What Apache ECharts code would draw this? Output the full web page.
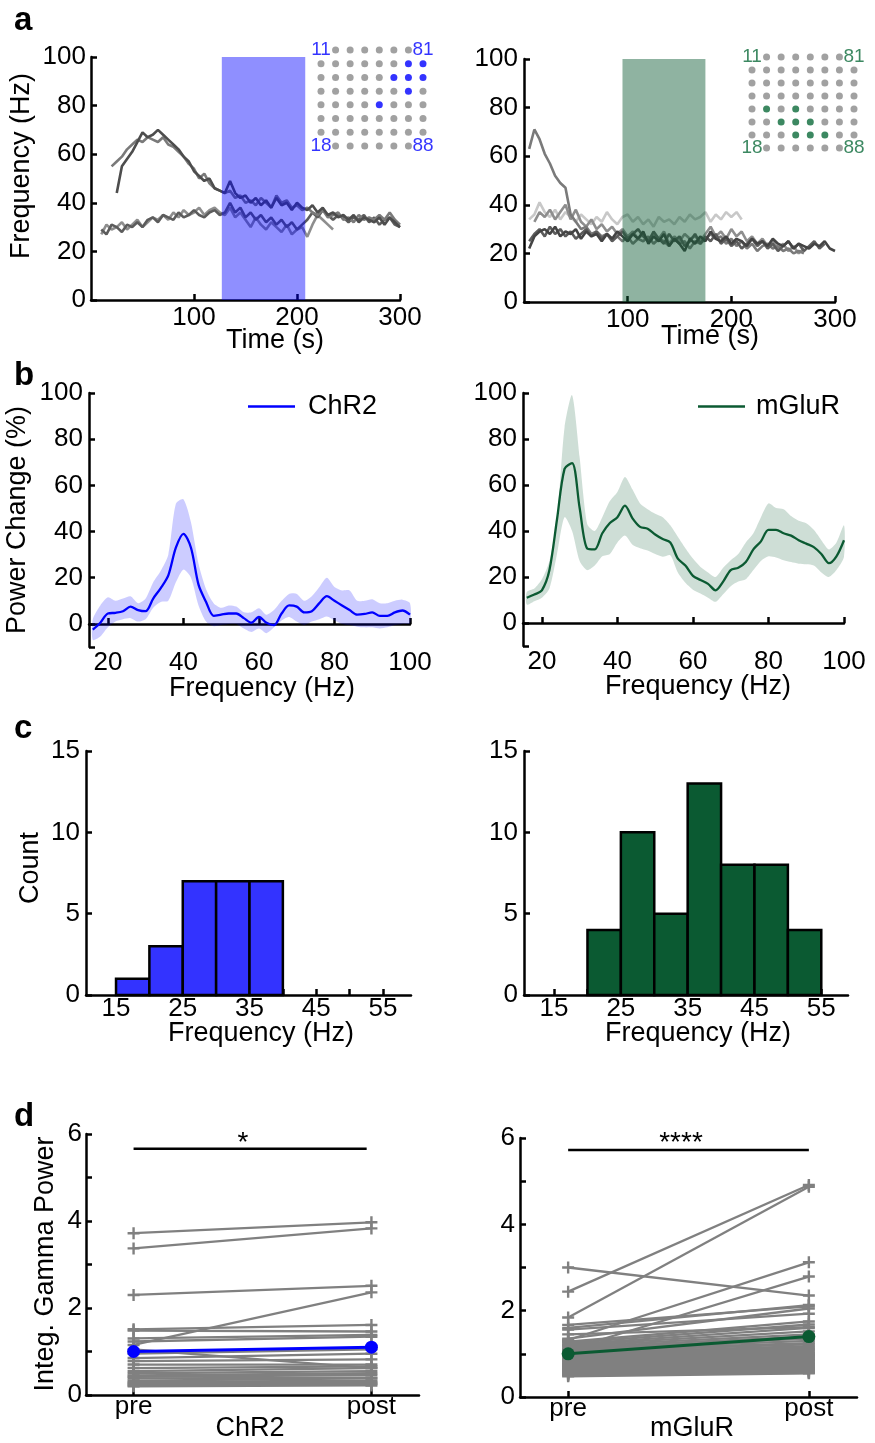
<!DOCTYPE html>
<html>
<head>
<meta charset="utf-8">
<script src="https://cdn.jsdelivr.net/npm/echarts@6.0.0/dist/echarts.min.js"></script>
<style>
  html, body { margin: 0; padding: 0; background: #fff; }
  #main { width: 875px; height: 1443px; }
</style>
</head>
<body>
<div id="main"></div>
<script>
var FONT = "'Liberation Sans', Arial, Helvetica, sans-serif";
var BLUE = '#0000ff';
var GREEN = '#0b5a32';
var TICK_SIZE = 26;
var TITLE_SIZE = 27;
var n = null;

// ---- a: peak frequency over time ----
var timeS = [5,10,15,20,25,30,35,40,45,50,55,60,65,70,75,80,85,90,95,100,105,110,115,120,125,130,135,140,145,150,155,160,165,170,175,180,185,190,195,200,205,210,215,220,225,230,235,240,245,250,255,260,265,270,275,280,285,290,295,300];
var chr2Trace1 = [n,n,n,n,44,55,58,61,65,69,67,68,70,68,66,64,62,59,57,53,
  51,49,50,46,45,44,49,44,42,43,40,42,39,41,38,42,39,40,37,40,
  38,37,39,36,38,35,36,34,35,33,35,32,34,33,32,34,31,34,32,30];
var chr2Trace2 = [n,n,n,55,57,59,62,64,66,65,67,66,65,67,64,63,61,59,56,54,
  50,52,48,46,45,44,45,42,43,40,41,39,42,40,38,43,40,41,38,39,
  37,38,36,35,37,34,35,36,33,34,32,35,33,34,33,35,33,36,33,31];
var chr2Trace3 = [n,27,31,29,30,32,29,31,33,30,32,34,33,35,33,36,34,37,35,36,
  38,35,37,38,36,35,38,34,36,33,30,34,31,29,32,30,28,31,27,29,
  30,26,31,35,33,31,29,n,n,n,n,n,n,n,n,n,n,n,n,n];
var chr2Trace4 = [n,29,27,31,30,28,31,30,32,30,33,34,32,35,34,33,36,34,35,37,
  35,34,36,37,35,36,40,36,38,34,36,33,35,32,34,31,33,30,32,29,
  31,33,36,34,37,35,33,35,34,32,34,33,35,32,34,31,33,34,31,30];
var mglurTrace1 = [63,71,67,61,57,52,49,47,36,33,30,31,28,29,27,28,26,27,25,27,
  24,26,25,27,24,26,25,23,26,24,25,22,25,24,26,28,26,27,24,26,
  23,25,22,24,21,23,24,22,23,21,22,20,21,20,n,n,n,n,n,n];
var mglurTrace2 = [34,36,41,37,35,38,34,37,35,33,36,34,32,35,33,37,34,32,35,36,
  33,35,32,34,31,35,33,34,32,35,33,36,34,35,37,33,36,34,37,35,
  37,34,n,n,n,n,n,n,n,n,n,n,n,n,n,n,n,n,n,n];
var mglurTrace3 = [n,33,37,35,38,34,37,40,34,38,33,31,34,30,32,29,31,28,30,27,
  29,26,28,25,28,26,29,24,27,25,28,26,27,25,28,31,27,29,26,30,
  27,29,25,27,24,26,23,25,22,24,21,23,20,22,n,n,n,n,n,n];
var mglurTrace4 = [22,27,29,30,28,31,27,29,28,30,26,29,27,28,25,28,26,29,27,25,
  28,26,29,24,27,25,28,23,26,24,21,26,24,27,25,29,26,25,27,24,
  26,25,23,26,24,25,23,26,24,23,25,22,24,23,22,24,23,25,22,21];
var mglurTrace5 = [25,28,30,27,31,28,30,27,29,26,28,30,27,29,26,28,25,27,29,26,
  28,30,27,25,29,26,24,28,25,27,23,25,28,24,27,25,28,24,26,23,
  25,22,24,26,23,25,22,24,21,23,25,22,24,21,23,25,22,24,n,n];
var chr2Stim = [127, 208];
var mglurStim = [95, 175];
var timeTicks = [100, 200, 300];
var freqTicksA = [0, 20, 40, 60, 80, 100];

// electrode map insets (col, row)
var siteCols = [0,1,2,3,4,5,6,7];
var siteRows = [0,1,2,3,4,5,6,7];
var cornerSites = [[0,0,'11'],[7,0,'81'],[0,7,'18'],[7,7,'88']];
var chr2Sites = [[6,1],[7,1],[5,2],[6,2],[7,2],[6,3],[4,4]];
var mglurSites = [[1,4],[3,4],[2,5],[3,5],[4,5],[3,6],[4,6],[5,6]];

// ---- b: power change spectra ----
var freqHz = [16,18,20,22,24,26,28,30,32,34,36,38,40,42,44,46,48,50,52,54,56,58,60,62,64,66,68,70,72,74,76,78,80,82,84,86,88,90,92,94,96,98,100];
var chr2Mean = [-2.5,0.5,4.5,4.8,5.5,7.5,6,5.5,11,15.5,21,33,39,33,17,9.5,3.5,4,4.5,4.5,2.5,0.5,3,0.5,-0.5,4.5,8,7.5,5,5.5,9,12,10,8,6,4,4.3,5,3.5,3.5,5,5.8,4];
var chr2Upper = [2,8,11.5,10,11,12,9,11,18,23,30,52,54,44,26,15,9,7,8,7.5,5,5,6.8,4,6,10,13,13,10,12,16,20,16,14.5,14.5,10,10,10.7,9,9,10,10.5,9];
var chr2Lower = [-7,-5.5,-1.5,1,2,2.5,1,2,7,9.5,10,18,23.5,20,8,1,-1,-0.5,0,0,-2,-3.5,-2,-4,-1.5,1.5,3,1,-0.5,1,2,3.2,1.5,0,-0.5,-1.2,-1.5,-1.5,-2,-1.5,-0.5,0,0.3];
var mglurMean = [11,12.4,14.2,23,45,67,69.5,50,32.4,32,39,43.5,46,51,45.5,41.8,41,38.5,36.5,35,28,25,20.5,18.7,17,14.2,18,23,24,26.5,32,35.5,40.5,40.5,39,38,36,34.5,33,30,26,29,36];
var mglurUpper = [13.5,15,19,27,45,85,99,72,43,40,46,53,57,63.5,58,52,49.5,47.5,46,42.5,37.5,32.5,28,24.4,22,20,24,27.3,30,35,39,46,52,50,49.5,46.5,44.5,43.4,40.5,36,32,35,42.5];
var mglurLower = [8,9.5,11,15,30,46,40,27,23,25,29,30,35,38,34,32.5,31.5,30,28.8,29.5,22,17.5,14.5,12.8,11,9.2,12.5,16,18,19,23,27,29,28.5,27.3,26.5,25.8,25.5,25,22,20,23,28.8];
var specTicksX = [20, 40, 60, 80, 100];
var specTicksY = [-10, 0, 20, 40, 60, 80, 100];
var specLabelsY = [0, 20, 40, 60, 80, 100];

// ---- c: histogram of peak gamma frequency ----
var binStart = [15, 20, 25, 30, 35, 40, 45, 50];
var binEnd = [20, 25, 30, 35, 40, 45, 50, 55];
var chr2Counts = [1, 3, 7, 7, 7, 0, 0, 0];
var mglurCounts = [0, 4, 10, 5, 13, 8, 8, 4];
var histTicksX = [15, 20, 25, 30, 35, 40, 45, 50, 55];
var histLabelsX = [15, 25, 35, 45, 55];
var countTicks = [0, 5, 10, 15];

// ---- d: integrated gamma power pre / post ----
var chr2Pre = [3.72,3.37,2.30,1.15,1.51,1.48,1.30,1.23,1.05,0.95,0.85,0.78,0.70,0.62,0.55,0.50,0.45,0.42,0.38,0.33,0.30,0.27,0.25,0.22,0.20];
var chr2Post = [3.97,3.83,2.51,2.36,1.61,1.46,1.38,1.34,0.62,1.05,0.95,0.82,0.70,0.66,0.62,0.55,0.50,0.46,0.40,0.38,0.33,0.30,0.27,0.25,0.22];
var mglurPre = [3.00,2.44,1.84,1.32,1.10,1.67,1.60,1.56,1.35,1.28,1.25,1.22,1.20,1.18,1.15,1.12,1.10,1.08,1.05,1.02,1.00,0.98,0.96,0.94,0.92,0.90,0.88,0.86,0.84,0.82,0.80,0.78,0.76,0.75,0.73,0.72,0.70,0.68,0.66,0.65,0.63,0.62,0.60,0.58,0.57,0.55,0.54,0.52,0.50,0.48,1.30,1.45];
var mglurPost = [2.35,4.91,4.87,3.12,2.79,2.10,2.13,1.93,2.05,1.75,1.68,1.60,1.52,1.45,1.40,1.35,1.30,1.25,1.22,1.18,1.15,1.12,1.10,1.08,1.05,1.02,1.00,0.98,0.96,0.95,0.93,0.90,0.88,0.86,0.85,0.82,0.80,0.78,0.76,0.74,0.72,0.70,0.68,0.66,0.64,0.62,0.60,0.58,0.56,0.55,0.65,1.62];
var chr2Avg = [1.00, 1.10];
var mglurAvg = [1.00, 1.40];
var chr2Sig = [1, 1.98, 5.66];
var mglurSig = [1, 2, 5.72];
var phaseTicks = [1, 2];
var phaseNames = ['pre', 'post'];
var gammaTicks = [0, 1, 2, 3, 4, 5, 6];
var gammaLabels = [0, 2, 4, 6];

var PLUS = 'path://M4,0h2v4h4v2h-4v4h-2v-4h-4v-2h4z';

function pairs(xs, ys) {
  var out = [];
  for (var i = 0; i < xs.length; i++) {
    if (ys[i] !== null) out.push([xs[i], ys[i]]);
  }
  return out;
}

function axis(grid, min, max, ticks, labels, margin) {
  return {
    type: 'value', gridIndex: grid, min: min, max: max,
    axisLine: { show: true, onZero: false, lineStyle: { color: '#000', width: 2.5 } },
    axisTick: { show: true, inside: true, length: 6, customValues: ticks, lineStyle: { color: '#000', width: 2.5 } },
    axisLabel: { show: true, customValues: labels, color: '#000', fontSize: TICK_SIZE, fontFamily: FONT, margin: margin },
    splitLine: { show: false }
  };
}

function hiddenAxis(grid, inverse) {
  return { type: 'value', gridIndex: grid, min: 0, max: 7, inverse: !!inverse, show: false, splitLine: { show: false } };
}

function trace(ax, values, color) {
  return {
    type: 'line', xAxisIndex: ax, yAxisIndex: ax, data: pairs(timeS, values),
    symbol: 'none', z: 2, lineStyle: { color: color, width: 2.6 }
  };
}

function stimBand(ax, span, fill) {
  return {
    type: 'custom', xAxisIndex: ax, yAxisIndex: ax, z: 10,
    data: [[span[0], span[1]]],
    renderItem: function (params, api) {
      var p0 = api.coord([api.value(0), 100]);
      var p1 = api.coord([api.value(1), 0]);
      return { type: 'rect', shape: { x: p0[0], y: p0[1], width: p1[0] - p0[0], height: p1[1] - p0[1] }, style: { fill: fill } };
    }
  };
}

function spreadBand(ax, lo, hi, fill) {
  return {
    type: 'custom', xAxisIndex: ax, yAxisIndex: ax, z: 1,
    data: freqHz.map(function (f, i) { return [f, lo[i], hi[i]]; }),
    encode: { x: 0, y: [1, 2] },
    renderItem: function (params, api) {
      if (params.dataIndex !== 0) return null;
      var pts = [];
      for (var i = 0; i < freqHz.length; i++) pts.push(api.coord([freqHz[i], hi[i]]));
      for (var j = freqHz.length - 1; j >= 0; j--) pts.push(api.coord([freqHz[j], lo[j]]));
      return { type: 'polygon', shape: { points: pts, smooth: 0.25 }, style: { fill: fill } };
    }
  };
}

function histogram(ax, counts, fill) {
  var data = [];
  for (var i = 0; i < counts.length; i++) {
    if (counts[i] > 0) data.push([binStart[i], binEnd[i], counts[i]]);
  }
  return {
    type: 'custom', xAxisIndex: ax, yAxisIndex: ax, data: data,
    encode: { x: [0, 1], y: 2 },
    renderItem: function (params, api) {
      var p0 = api.coord([api.value(0), api.value(2)]);
      var p1 = api.coord([api.value(1), 0]);
      return { type: 'rect', shape: { x: p0[0], y: p0[1], width: p1[0] - p0[0], height: p1[1] - p0[1] },
        style: { fill: fill, stroke: '#000', lineWidth: 2.5 } };
    }
  };
}

function pairedLines(ax, pre, post) {
  return pre.map(function (v, i) {
    return {
      type: 'line', xAxisIndex: ax, yAxisIndex: ax, z: 2,
      data: [[phaseTicks[0], v], [phaseTicks[1], post[i]]],
      symbol: PLUS, symbolSize: 12, showSymbol: true,
      itemStyle: { color: '#808080' }, lineStyle: { color: '#808080', width: 2.3 }
    };
  });
}

function greySites(active) {
  var out = [];
  siteCols.forEach(function (c) {
    siteRows.forEach(function (r) {
      var used = cornerSites.concat(active).some(function (s) { return s[0] === c && s[1] === r; });
      if (!used) out.push([c, r]);
    });
  });
  return out;
}

function siteSeries(ax, active, color) {
  return [
    { type: 'scatter', xAxisIndex: ax, yAxisIndex: ax, data: greySites(active), symbolSize: 7, itemStyle: { color: '#8a8a8a' } },
    { type: 'scatter', xAxisIndex: ax, yAxisIndex: ax, data: active, symbolSize: 7, itemStyle: { color: color } },
    { type: 'scatter', xAxisIndex: ax, yAxisIndex: ax, data: cornerSites, symbolSize: 0,
      label: { show: true, position: 'inside', formatter: function (p) { return p.value[2]; },
        color: color, fontSize: 19, fontFamily: FONT } }
  ];
}

function sigBar(ax, sig) {
  return { type: 'line', xAxisIndex: ax, yAxisIndex: ax, data: [[sig[0], sig[2]], [sig[1], sig[2]]],
    symbol: 'none', lineStyle: { color: '#000', width: 2.5 } };
}

function avgLine(ax, avg, color, name) {
  return { type: 'line', name: name, xAxisIndex: ax, yAxisIndex: ax, z: 5,
    data: [[phaseTicks[0], avg[0]], [phaseTicks[1], avg[1]]],
    symbol: 'circle', symbolSize: 13, showSymbol: true,
    itemStyle: { color: color }, lineStyle: { color: color, width: 3 } };
}

function text(str, x, y, opts) {
  opts = opts || {};
  return {
    type: 'text', x: x, y: y, rotation: opts.rot || 0, silent: true,
    style: { text: str, fill: '#000', fontSize: opts.size || TITLE_SIZE, fontWeight: opts.bold ? 'bold' : 'normal',
      fontFamily: FONT, textAlign: opts.align || 'center', textVerticalAlign: 'middle',
      align: opts.align || 'center', verticalAlign: 'middle' }
  };
}

var xAxes = [
  axis(0, 0, 300, timeTicks, timeTicks, 5),
  axis(1, 0, 300, timeTicks, timeTicks, 5),
  axis(2, 15, 100, specTicksX, [], 4),
  axis(3, 15, 100, specTicksX, [], 4),
  axis(4, 10.5, 59.2, histTicksX, histLabelsX, 1),
  axis(5, 10.5, 59, histTicksX, histLabelsX, 1),
  axis(6, 0.8, 2.2, phaseTicks, phaseTicks, -1),
  axis(7, 0.8, 2.2, phaseTicks, phaseTicks, -1),
  hiddenAxis(8),
  hiddenAxis(9),
  axis(2, 15, 100, specTicksX, specTicksX, 3),
  axis(3, 15, 100, specTicksX, specTicksX, 3)
];
// zero line for the spectra
xAxes[2].axisLine.onZero = true;
xAxes[3].axisLine.onZero = true;
xAxes[2].axisLabel.show = false;
xAxes[3].axisLabel.show = false;
// label-only axes at the bottom of the spectra
[10, 11].forEach(function (i) {
  xAxes[i].position = 'bottom';
  xAxes[i].axisLine.show = false;
  xAxes[i].axisTick.show = false;
});
xAxes[6].axisLabel.formatter = function (v) { return phaseNames[phaseTicks.indexOf(v)]; };
xAxes[7].axisLabel.formatter = function (v) { return phaseNames[phaseTicks.indexOf(v)]; };

var yAxes = [
  axis(0, 0, 100, freqTicksA, freqTicksA, 5),
  axis(1, 0, 100, freqTicksA, freqTicksA, 6),
  axis(2, -10, 100, specTicksY, specLabelsY, 6),
  axis(3, -10, 100, specTicksY, specLabelsY, 6),
  axis(4, 0, 15, countTicks, countTicks, 6),
  axis(5, 0, 15, countTicks, countTicks, 6),
  axis(6, 0, 6, gammaTicks, gammaLabels, 4),
  axis(7, 0, 6, gammaTicks, gammaLabels, 5),
  hiddenAxis(8, true),
  hiddenAxis(9, true)
];

var series = [
  trace(0, chr2Trace3, '#8e8e8e'),
  trace(0, chr2Trace4, '#5c5c5c'),
  trace(0, chr2Trace2, '#7a7a7a'),
  trace(0, chr2Trace1, '#4d4d4d'),
  stimBand(0, chr2Stim, 'rgba(0,0,255,0.44)'),
  trace(1, mglurTrace2, '#c8c8c8'),
  trace(1, mglurTrace3, '#8e8e8e'),
  trace(1, mglurTrace1, '#7a7a7a'),
  trace(1, mglurTrace5, '#5c5c5c'),
  trace(1, mglurTrace4, '#444444'),
  stimBand(1, mglurStim, 'rgba(11,90,50,0.46)'),
  spreadBand(2, chr2Lower, chr2Upper, 'rgba(0,0,255,0.2)'),
  { type: 'line', name: 'ChR2', color: BLUE, xAxisIndex: 2, yAxisIndex: 2, z: 3, data: pairs(freqHz, chr2Mean),
    symbol: 'none', smooth: 0.3, itemStyle: { color: BLUE }, lineStyle: { color: BLUE, width: 2.3 } },
  spreadBand(3, mglurLower, mglurUpper, 'rgba(11,90,50,0.2)'),
  { type: 'line', name: 'mGluR', color: GREEN, xAxisIndex: 3, yAxisIndex: 3, z: 3, data: pairs(freqHz, mglurMean),
    symbol: 'none', smooth: 0.3, itemStyle: { color: GREEN }, lineStyle: { color: GREEN, width: 2.3 } },
  histogram(4, chr2Counts, '#3333ff'),
  histogram(5, mglurCounts, GREEN),
  sigBar(6, chr2Sig),
  sigBar(7, mglurSig),
  avgLine(6, chr2Avg, BLUE, 'chr2Avg'),
  avgLine(7, mglurAvg, GREEN, 'mglurAvg')
]
  .concat(pairedLines(6, chr2Pre, chr2Post))
  .concat(pairedLines(7, mglurPre, mglurPost))
  .concat(siteSeries(8, chr2Sites, BLUE))
  .concat(siteSeries(9, mglurSites, '#0b6a3a'));

var option = {
  animation: false,
  backgroundColor: '#fff',
  textStyle: { fontFamily: FONT },
  grid: [
    { left: 91, top: 57, width: 309, height: 243 },
    { left: 524, top: 59, width: 311, height: 243 },
    { left: 89, top: 393, width: 321, height: 254 },
    { left: 523, top: 393, width: 321, height: 253 },
    { left: 86, top: 751, width: 325, height: 244 },
    { left: 524, top: 751, width: 324, height: 244 },
    { left: 86, top: 1134, width: 333, height: 261 },
    { left: 520, top: 1138, width: 337, height: 259 },
    { left: 321, top: 50, width: 102, height: 96 },
    { left: 752, top: 57, width: 102, height: 91 }
  ].map(function (g) { g.containLabel = false; g.outerBoundsMode = 'none'; return g; }),
  xAxis: xAxes,
  yAxis: yAxes,
  legend: [
    { data: ['ChR2'], left: 248, top: 393, padding: 0, icon: 'rect', itemWidth: 47, itemHeight: 2.5, selectedMode: false,
      textStyle: { fontSize: TITLE_SIZE, color: '#000', fontFamily: FONT, padding: [0, 0, 0, 8] } },
    { data: ['mGluR'], left: 698, top: 393, padding: 0, icon: 'rect', itemWidth: 47, itemHeight: 2.5, selectedMode: false,
      textStyle: { fontSize: TITLE_SIZE, color: '#000', fontFamily: FONT, padding: [0, 0, 0, 6] } }
  ],
  graphic: [
    text('a', 14, 21, { size: 33, bold: true, align: 'left' }),
    text('b', 14, 376, { size: 33, bold: true, align: 'left' }),
    text('c', 14, 729, { size: 33, bold: true, align: 'left' }),
    text('d', 14, 1117, { size: 33, bold: true, align: 'left' }),
    text('Frequency (Hz)', 22, 166, { rot: Math.PI / 2 }),
    text('Time (s)', 275, 341),
    text('Time (s)', 710, 337),
    text('Power Change (%)', 18, 520, { rot: Math.PI / 2 }),
    text('Frequency (Hz)', 262, 689),
    text('Frequency (Hz)', 698, 687),
    text('Count', 31, 868, { rot: Math.PI / 2 }),
    text('Frequency (Hz)', 261, 1034),
    text('Frequency (Hz)', 698, 1034),
    text('Integ. Gamma Power', 46, 1264, { rot: Math.PI / 2 }),
    text('ChR2', 250, 1429),
    text('mGluR', 692, 1429),
    text('*', 243, 1143, { size: 28 }),
    text('****', 681, 1143, { size: 28 })
  ],
  series: series
};

var chart = echarts.init(document.getElementById('main'), null, { renderer: 'canvas' });
chart.setOption(option);
</script>
</body>
</html>
